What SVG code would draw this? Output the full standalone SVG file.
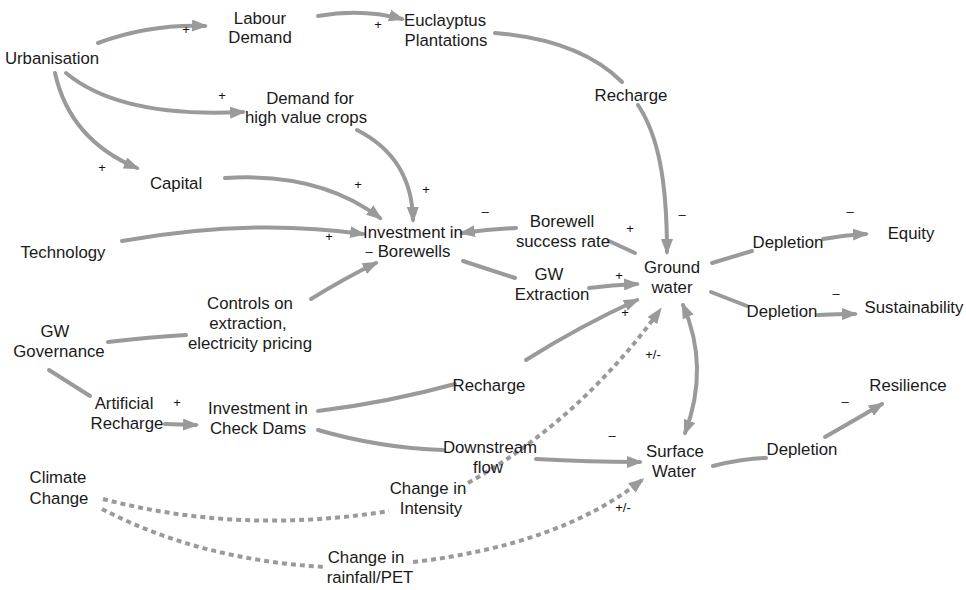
<svg xmlns="http://www.w3.org/2000/svg" width="966" height="590" viewBox="0 0 966 590">
<style>
  text { font-family: "Liberation Sans", Arial, sans-serif; fill: #1a1a1a; }
  .n { font-size: 16.8px; text-anchor: middle; }
  .p { font-size: 13px; text-anchor: middle; fill: #111111; }
  .c { fill: none; stroke: #9a9a9a; stroke-width: 4; stroke-linecap: round; }
  .a { marker-end: url(#ah); }
  .d { stroke-dasharray: 5 4; stroke-linecap: butt; }
</style>
<defs>
  <marker id="ah" markerUnits="userSpaceOnUse" markerWidth="16" markerHeight="12" refX="13" refY="6" orient="auto">
    <path d="M0,0 L16,6 L0,12 z" fill="#9a9a9a"/>
  </marker>
  <marker id="ahs" markerUnits="userSpaceOnUse" markerWidth="16" markerHeight="12" refX="13" refY="6" orient="auto-start-reverse">
    <path d="M0,0 L16,6 L0,12 z" fill="#9a9a9a"/>
  </marker>
</defs>
<rect width="966" height="590" fill="#ffffff"/>

<g id="connectors">
  <path class="c a" d="M98,43 Q150,24 205,26"/>
  <path class="c a" d="M318,16 Q362,8 402,19"/>
  <path class="c a" d="M66,73 Q120,118 243,112"/>
  <path class="c a" d="M55,73 Q70,140 137,168"/>
  <path class="c a" d="M357,130 Q412,158 413,220"/>
  <path class="c a" d="M225,178 Q320,172 380,218"/>
  <path class="c a" d="M122,241 Q250,218 363,234"/>
  <path class="c a" d="M311,299 Q345,278 376,263"/>
  <path class="c" d="M108,342 Q150,337 186,335"/>
  <path class="c" d="M49,370 L90,396"/>
  <path class="c a" d="M165,424 L196,425"/>
  <path class="c" d="M318,411 Q390,402 455,384"/>
  <path class="c a" d="M526,360 Q580,326 637,300"/>
  <path class="c" d="M318,430 Q380,448 443,450"/>
  <path class="c a" d="M536,459 Q590,462 640,462"/>
  <path class="c" d="M463,261 L515,278"/>
  <path class="c a" d="M589,288 Q612,285 637,284"/>
  <path class="c a" d="M516,228 Q490,229 462,233"/>
  <path class="c" d="M635,253 L609,241"/>
  <path class="c" d="M495,33 Q580,40 622,82"/>
  <path class="c a" d="M638,105 C658,135 667,180 667,252"/>
  <path class="c" d="M712,263 L752,251"/>
  <path class="c a" d="M823,239 Q845,235 866,234"/>
  <path class="c" d="M711,292 L747,306"/>
  <path class="c a" d="M818,315 Q836,314 855,314"/>
  <path class="c" d="M683,305 Q710,367 685,433" marker-start="url(#ahs)" marker-end="url(#ahs)"/>
  <path class="c" d="M713,466 Q745,458 766,458"/>
  <path class="c a" d="M825,437 Q855,420 882,404"/>
  <path class="c d" d="M103,499 Q240,535 389,511"/>
  <path class="c d a" d="M468,483 Q580,420 660,310"/>
  <path class="c d" d="M102,509 Q200,560 325,567"/>
  <path class="c d a" d="M413,562 Q560,545 642,480"/>
</g>

<g id="urbanisation"><text class="n" x="52" y="64">Urbanisation</text></g>
<g id="labour-demand"><text class="n" x="260" y="24">Labour</text><text class="n" x="260" y="43">Demand</text></g>
<g id="eucalyptus"><text class="n" x="445" y="26">Euclayptus</text><text class="n" x="446" y="46">Plantations</text></g>
<g id="demand-crops"><text class="n" x="310" y="104">Demand for</text><text class="n" x="306" y="123">high value crops</text></g>
<g id="capital"><text class="n" x="176" y="189">Capital</text></g>
<g id="technology"><text class="n" x="63" y="258">Technology</text></g>
<g id="investment-borewells"><text class="n" x="413" y="238">Investment in</text><text class="n" x="414" y="257">Borewells</text></g>
<g id="borewell-success"><text class="n" x="562" y="227">Borewell</text><text class="n" x="563" y="247">success rate</text></g>
<g id="gw-extraction"><text class="n" x="549" y="280">GW</text><text class="n" x="552" y="300">Extraction</text></g>
<g id="ground-water"><text class="n" x="672" y="273">Ground</text><text class="n" x="672" y="293">water</text></g>
<g id="recharge-top"><text class="n" x="631" y="101">Recharge</text></g>
<g id="depletion-equity"><text class="n" x="788" y="248">Depletion</text></g>
<g id="equity"><text class="n" x="911" y="239">Equity</text></g>
<g id="depletion-sust"><text class="n" x="782" y="317">Depletion</text></g>
<g id="sustainability"><text class="n" x="914" y="313">Sustainability</text></g>
<g id="resilience"><text class="n" x="908" y="391">Resilience</text></g>
<g id="surface-water"><text class="n" x="675" y="457">Surface</text><text class="n" x="674" y="477">Water</text></g>
<g id="depletion-res"><text class="n" x="802" y="455">Depletion</text></g>
<g id="controls"><text class="n" x="250" y="309">Controls on</text><text class="n" x="248" y="329">extraction,</text><text class="n" x="250" y="349">electricity pricing</text></g>
<g id="gw-governance"><text class="n" x="55" y="337">GW</text><text class="n" x="59" y="357">Governance</text></g>
<g id="artificial-recharge"><text class="n" x="124" y="409">Artificial</text><text class="n" x="127" y="429">Recharge</text></g>
<g id="check-dams"><text class="n" x="258" y="414">Investment in</text><text class="n" x="258" y="434">Check Dams</text></g>
<g id="climate-change"><text class="n" x="58" y="483">Climate</text><text class="n" x="59" y="504">Change</text></g>
<g id="recharge-mid"><text class="n" x="489" y="391">Recharge</text></g>
<g id="downstream"><text class="n" x="490" y="453">Downstream</text><text class="n" x="488" y="473">flow</text></g>
<g id="change-intensity"><text class="n" x="428" y="494">Change in</text><text class="n" x="431" y="514">Intensity</text></g>
<g id="change-rainfall"><text class="n" x="366" y="563">Change in</text><text class="n" x="370" y="583">rainfall/PET</text></g>

<g id="polarities">
  <text class="p" x="186" y="34">+</text>
  <text class="p" x="378" y="29">+</text>
  <text class="p" x="222" y="100">+</text>
  <text class="p" x="102" y="172">+</text>
  <text class="p" x="358" y="189">+</text>
  <text class="p" x="426" y="194">+</text>
  <text class="p" x="329" y="241">+</text>
  <text class="p" x="485" y="216">–</text>
  <text class="p" x="630" y="233">+</text>
  <text class="p" x="682" y="219">–</text>
  <text class="p" x="619" y="280">+</text>
  <text class="p" x="625" y="317">+</text>
  <text class="p" x="653" y="359">+/-</text>
  <text class="p" x="850" y="216">–</text>
  <text class="p" x="836" y="298">–</text>
  <text class="p" x="845" y="406">–</text>
  <text class="p" x="612" y="440">–</text>
  <text class="p" x="623" y="512">+/-</text>
  <text class="p" x="177" y="407">+</text>
  <text class="p" x="369" y="256">–</text>
</g>
</svg>
